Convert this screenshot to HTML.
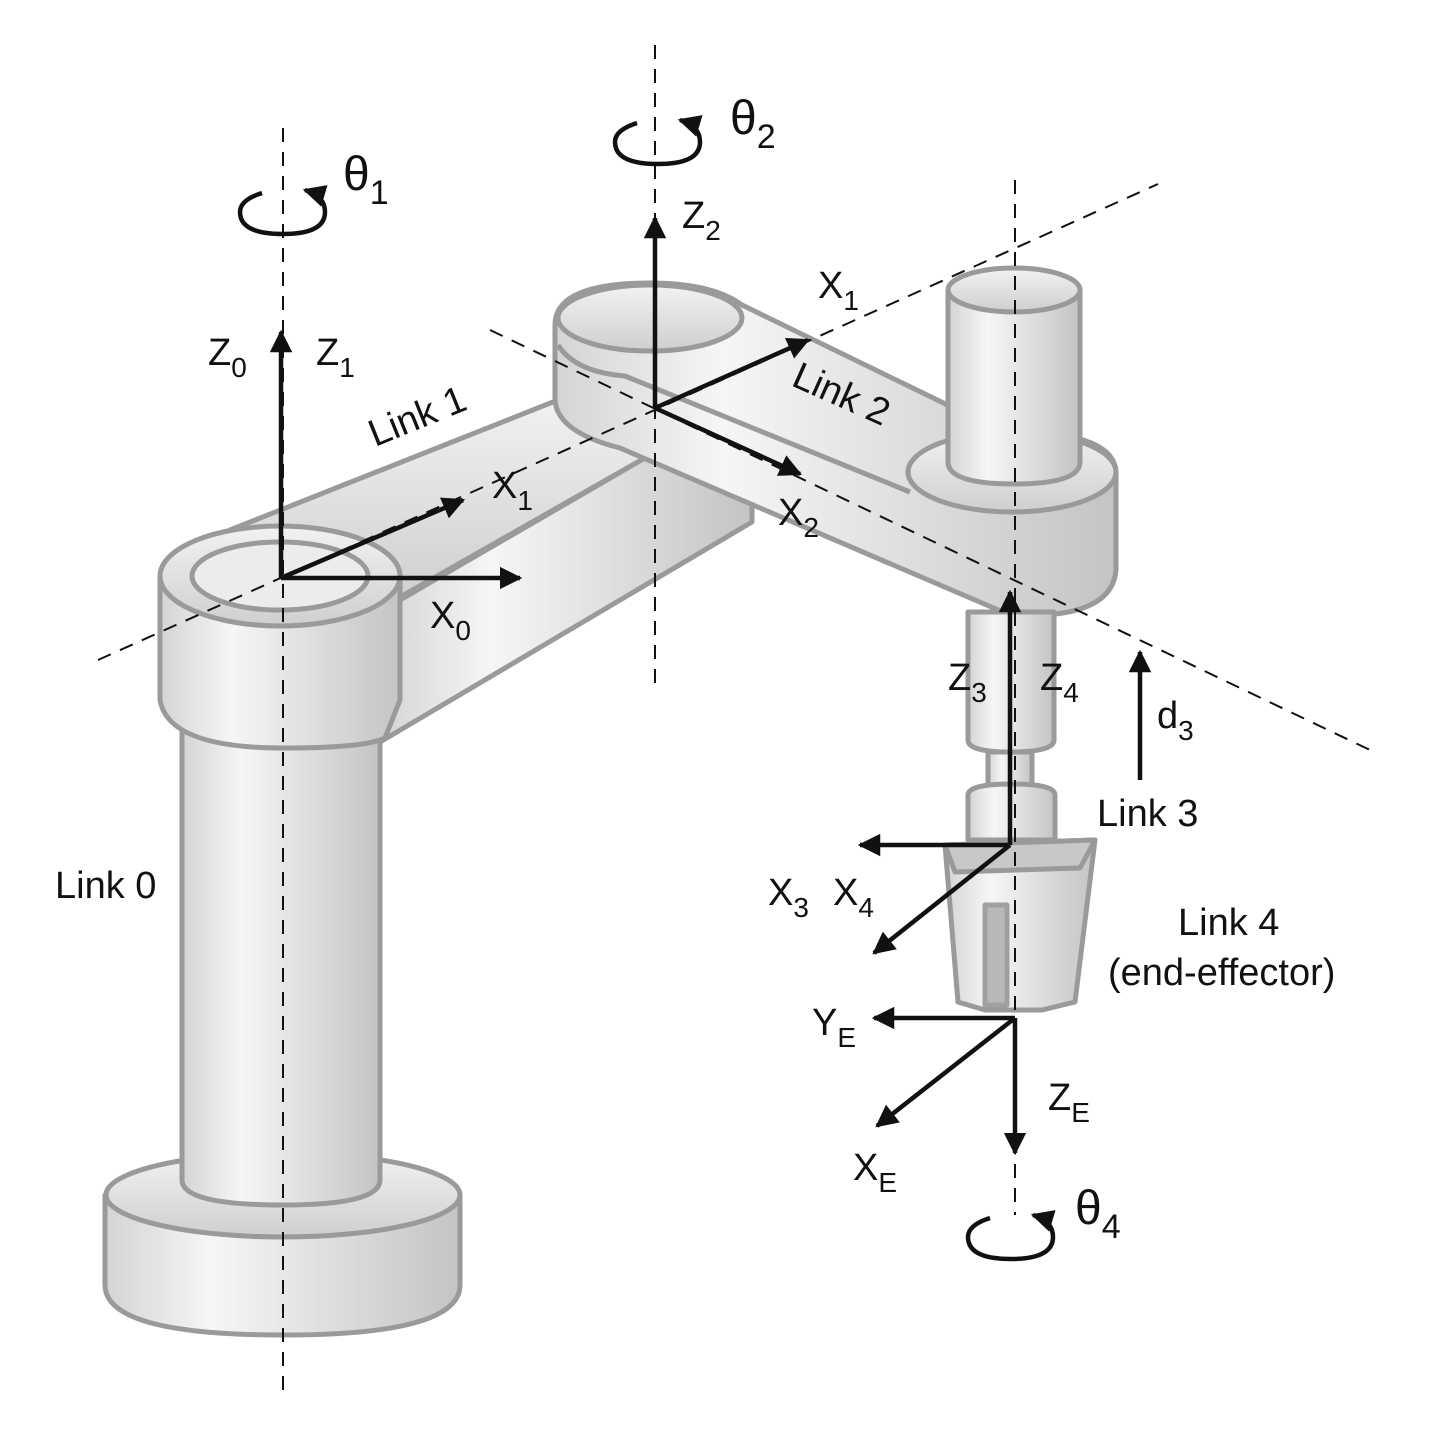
<!DOCTYPE html>
<html><head><style>html,body{margin:0;padding:0;background:#fff}svg{display:block}</style></head>
<body>
<svg width="1440" height="1440" viewBox="0 0 1440 1440" xmlns="http://www.w3.org/2000/svg" font-family="Liberation Sans, sans-serif">
<defs>
<linearGradient id="g" x1="0" x2="1" y1="0" y2="0">
<stop offset="0" stop-color="#d4d4d4"/><stop offset="0.3" stop-color="#f6f6f6"/><stop offset="1" stop-color="#c4c4c4"/></linearGradient>
<linearGradient id="gv" x1="0" x2="0" y1="0" y2="1">
<stop offset="0" stop-color="#f2f2f2"/><stop offset="1" stop-color="#cfcfcf"/></linearGradient>
<marker id="a" viewBox="0 0 10 10" refX="9" refY="5" markerWidth="5" markerHeight="5" orient="auto"><path d="M0,0 L10,5 L0,10 z" fill="#111"/></marker>
</defs>
<g stroke="#9a9a9a" stroke-width="5" stroke-linejoin="round">
<!-- base -->
<path d="M105,1195 L105,1285 Q105,1335 283,1335 Q460,1335 460,1285 L460,1195 Z" fill="url(#g)"/>
<ellipse cx="283" cy="1195" rx="177" ry="42" fill="url(#gv)"/>
<!-- column -->
<path d="M182,700 L182,1180 Q182,1205 283,1205 Q380,1205 380,1180 L380,700 Z" fill="url(#g)"/>
<!-- link1 arm -->
<path d="M380,742 L752,522 L752,462 L650,455 L400,600 Z" fill="url(#g)"/>
<path d="M230,530 L568,396 L650,455 L395,600 Z" fill="url(#gv)"/>
<!-- link1 end -->
<path d="M160,578 L160,700 Q168,748 283,748 Q365,748 385,738 L400,700 L400,578 Z" fill="url(#g)"/>
<ellipse cx="280" cy="576" rx="120" ry="50" fill="url(#gv)"/>
<ellipse cx="280" cy="576" rx="88" ry="34" fill="#ececec"/>
<!-- link2 -->
<path d="M555,325 Q555,283 650,283 Q712,283 742,305 L962,412 Q990,432 1012,432 Q1114,432 1116,472 L1116,570 Q1112,620 1010,615 L620,448 Q557,432 555,400 Z" fill="url(#g)"/>
<path d="M558,345 Q575,372 625,376 L910,492" fill="none"/>
<ellipse cx="650" cy="318" rx="92" ry="33" fill="url(#gv)"/>
<ellipse cx="1012" cy="472" rx="104" ry="40" fill="url(#gv)"/>
<!-- cylinder -->
<path d="M948,290 L948,462 Q948,484 1014,484 Q1080,484 1080,462 L1080,290 Z" fill="url(#g)"/>
<ellipse cx="1014" cy="290" rx="66" ry="22" fill="url(#gv)"/>
<!-- shaft -->
<path d="M968,612 L968,740 Q968,752 1010,752 Q1054,752 1054,740 L1054,612 Z" fill="url(#g)"/>
<rect x="988" y="752" width="44" height="40" fill="url(#g)"/>
<path d="M968,795 L968,840 L1055,840 L1055,795 Q1055,784 1012,784 Q968,784 968,795 Z" fill="url(#g)"/>
<!-- gripper -->
<path d="M945,845 L1095,840 L1075,1002 L1042,1010 L985,1010 L958,1002 Z" fill="url(#g)"/>
<path d="M945,845 L1095,840 L1080,868 L955,872 Z" fill="#c8c8c8"/>
<rect x="985" y="905" width="22" height="100" fill="#b8b8b8" stroke="#a0a0a0"/>
</g>
<!-- dashed lines -->
<g stroke="#111" stroke-width="2" stroke-dasharray="14,10" fill="none">
<line x1="283" y1="128" x2="283" y2="1390"/>
<line x1="655" y1="45" x2="655" y2="690"/>
<line x1="1015" y1="180" x2="1015" y2="1215"/>
<line x1="98" y1="660" x2="1158" y2="184"/>
<line x1="490" y1="330" x2="1370" y2="750"/>
</g>
<!-- axes -->
<g stroke="#111" stroke-width="4.5" fill="none" marker-end="url(#a)">
<line x1="281" y1="578" x2="281" y2="332"/>
<line x1="281" y1="578" x2="520" y2="578"/>
<line x1="281" y1="578" x2="463" y2="500"/>
<line x1="655" y1="408" x2="655" y2="218"/>
<line x1="655" y1="408" x2="808" y2="340"/>
<line x1="655" y1="408" x2="800" y2="474"/>
<line x1="1010" y1="845" x2="1010" y2="592"/>
<line x1="1140" y1="780" x2="1140" y2="652"/>
<line x1="1010" y1="845" x2="860" y2="845"/>
<line x1="1010" y1="845" x2="874" y2="953"/>
<line x1="1015" y1="1018" x2="874" y2="1018"/>
<line x1="1015" y1="1018" x2="877" y2="1126"/>
<line x1="1015" y1="1018" x2="1015" y2="1153"/>
</g>
<!-- rotation arrows -->
<g stroke="#111" stroke-width="4.5" fill="none" marker-end="url(#a)">
<path d="M262,193 Q240,200 240,212 Q240,234 283,234 Q325,234 325,212 Q325,196 305,190"/>
<path d="M637,123 Q615,130 615,142 Q615,164 658,164 Q700,164 700,142 Q700,126 680,120"/>
<path d="M990,1218 Q968,1225 968,1237 Q968,1259 1011,1259 Q1053,1259 1053,1237 Q1053,1221 1033,1215"/>
</g>
<!-- labels -->
<g fill="#111" font-size="38">
<text x="343" y="190" font-size="48">θ<tspan font-size="34" dy="14">1</tspan></text>
<text x="730" y="134" font-size="48">θ<tspan font-size="34" dy="14">2</tspan></text>
<text x="1075" y="1224" font-size="48">θ<tspan font-size="34" dy="14">4</tspan></text>
<text x="208" y="365">Z<tspan font-size="28" dy="12">0</tspan></text>
<text x="316" y="365">Z<tspan font-size="28" dy="12">1</tspan></text>
<text x="682" y="228">Z<tspan font-size="28" dy="12">2</tspan></text>
<text x="818" y="298">X<tspan font-size="28" dy="12">1</tspan></text>
<text x="492" y="498">X<tspan font-size="28" dy="12">1</tspan></text>
<text x="430" y="628">X<tspan font-size="28" dy="12">0</tspan></text>
<text x="778" y="525">X<tspan font-size="28" dy="12">2</tspan></text>
<text x="948" y="690">Z<tspan font-size="28" dy="12">3</tspan></text>
<text x="1040" y="690">Z<tspan font-size="28" dy="12">4</tspan></text>
<text x="1157" y="728">d<tspan font-size="28" dy="12">3</tspan></text>
<text x="768" y="905">X<tspan font-size="28" dy="12">3</tspan></text>
<text x="833" y="905">X<tspan font-size="28" dy="12">4</tspan></text>
<text x="812" y="1035">Y<tspan font-size="28" dy="12">E</tspan></text>
<text x="1048" y="1110">Z<tspan font-size="28" dy="12">E</tspan></text>
<text x="853" y="1180">X<tspan font-size="28" dy="12">E</tspan></text>
<text x="1097" y="826">Link 3</text>
<text x="1178" y="935">Link 4</text>
<text x="1108" y="985">(end-effector)</text>
<text x="55" y="898">Link 0</text>
<text transform="translate(375,447) rotate(-22)">Link 1</text>
<text transform="translate(790,385) rotate(24)">Link 2</text>
</g>
</svg>
</body></html>
